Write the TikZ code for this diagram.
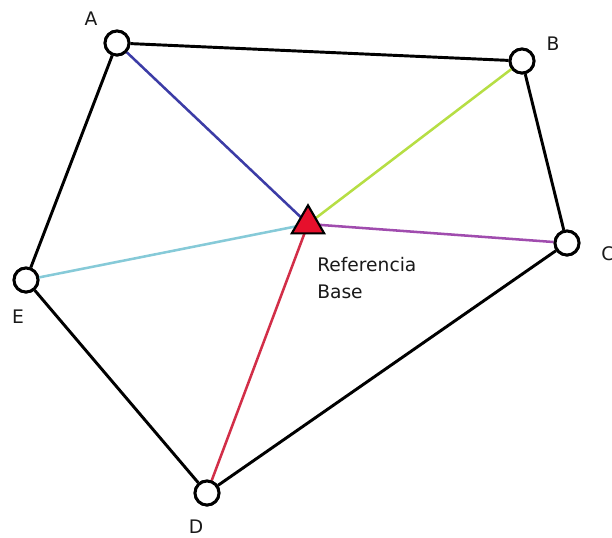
\documentclass[tikz,border=0pt]{standalone}
\usepackage{fontspec}
\setmainfont{DejaVu Sans}
\usepackage{tikz}
\usetikzlibrary{shapes.geometric}
\definecolor{lnA}{HTML}{3C3CA6}
\definecolor{lnB}{HTML}{B6DE44}
\definecolor{lnC}{HTML}{A04CAE}
\definecolor{lnD}{HTML}{D22E48}
\definecolor{lnE}{HTML}{86CAD8}
\definecolor{refred}{HTML}{E6102C}

\begin{document}
\begin{tikzpicture}[x=0.75pt,y=-0.75pt,
  vtx/.style={circle,draw=black,line width=2.2pt,fill=white,minimum size=18pt,inner sep=0pt},
  edge/.style={black,line width=2.2pt},
  ray/.style={line width=1.9pt},
  lbl/.style={font=\fontsize{14}{20}\selectfont,text=black!90,inner sep=0pt}]
 \useasboundingbox (0,0) rectangle (612,537);
 % stations
 \node[vtx] (A) at (117,43) {};
 \node[vtx] (B) at (522,61) {};
 \node[vtx] (C) at (567,243) {};
 \node[vtx] (D) at (207,493) {};
 \node[vtx] (E) at (26,280) {};
 \node[regular polygon,regular polygon sides=3,minimum size=28pt,inner sep=0pt] (ref) at (308,224) {};
 % rays from the base
 \draw[ray,lnA] (ref.center) -- (A);
 \draw[ray,lnB] (ref.center) -- (B);
 \draw[ray,lnC] (ref.center) -- (C);
 \draw[ray,lnD] (ref.center) -- (D);
 \draw[ray,lnE] (ref.center) -- (E);
 % outline
 \draw[edge] (A) -- (B) -- (C) -- (D) -- (E) -- (A);
 \node[vtx] at (A) {};
 \node[vtx] at (B) {};
 \node[vtx] at (C) {};
 \node[vtx] at (D) {};
 \node[vtx] at (E) {};
 \node[regular polygon,regular polygon sides=3,minimum size=28pt,inner sep=0pt,
   draw=black,line width=1.6pt,fill=refred] at (ref) {};
 % labels
 \node[lbl] (lA) at (91,19) {A};
 \node[lbl] (lB) at (553,44) {B};
 \node[lbl] (lC) at (608,254) {C};
 \node[lbl] (lD) at (196,527) {D};
 \node[lbl] (lE) at (18,317) {E};
 \node[lbl,anchor=north west,align=left] (lref) at (317,257) {Referencia\\Base};
\end{tikzpicture}
\end{document}
